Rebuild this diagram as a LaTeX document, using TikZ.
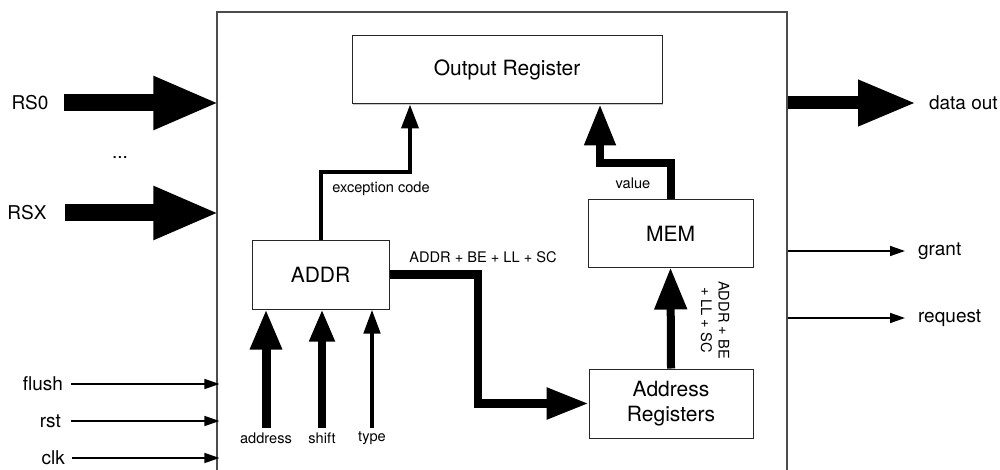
\documentclass[tikz,border=0pt]{standalone}
\usepackage{fontspec}
\setmainfont{TeX Gyre Heros}
\usetikzlibrary{arrows.meta,shadows}

\begin{document}
\begin{tikzpicture}[x=0.5pt, y=-0.5pt,
    every node/.style={font=\fontsize{9.5}{11}\selectfont},
    block/.style={rectangle, draw=black!85, line width=0.5pt, fill=white, inner sep=0pt, align=center,
        font=\fontsize{10.5}{12.5}\selectfont,
        drop shadow={shadow xshift=0.6pt, shadow yshift=-0.6pt, opacity=0.3, fill=black!70}},
    small/.style={font=\fontsize{7.3}{8.8}\selectfont},
    bus/.style n args={3}{line width=#1, -{Triangle[length=#2, width=#3]}},
    wire/.style={line width=0.75pt, -{Triangle[length=7.5pt, width=5pt]}},
    touch/.style={shorten >=-1.5pt}]
    \useasboundingbox (0,0) rectangle (1000,470);
    % frame
    \node (frame) [draw=black!70, line width=0.6pt, minimum width=285pt, minimum height=240pt, inner sep=0pt] at (502,252) {};
    % blocks
    \node (outreg) [block, minimum width=155pt, minimum height=34pt] at (507,70) {Output Register};
    \node (mem) [block, minimum width=82.5pt, minimum height=33.5pt] at (670.5,233.5) {MEM};
    \node (addr) [block, minimum width=68.5pt, minimum height=34.5pt] at (320.5,274.5) {ADDR};
    \node (areg) [block, minimum width=82pt, minimum height=34.5pt] at (671,403.5) {Address\\Registers};
    \coordinate (exc) at (410,172);
    \coordinate (val) at (600,163);
    \coordinate (turn) at (478,0);
    % internal paths
    \draw[bus={2pt}{12pt}{8.5pt}] (addr.north) |- (exc) -- (exc |- outreg.south);
    \node (exclbl) [small] at (381,189) {exception code};
    \draw[bus={4pt}{20.5pt}{15pt}] (mem.north) |- (val) -- (val |- outreg.south);
    \node (vallbl) [small] at (633,183) {value};
    \draw[bus={4.25pt}{21pt}{15pt}] (addr.east) -| (turn |- areg.west) -- (areg.west);
    \node (buslbl) [small] at (483,257) {ADDR + BE + LL + SC};
    \draw[bus={4pt}{21pt}{15.5pt}] (areg.north) -- (mem.south);
    \node (memlbl) [small, rotate=-90, align=center] at (715,320) {ADDR + BE\\+ LL + SC};
    % inputs of ADDR
    \node (ain) [small] at (266,438) {address};
    \node (sin) [small] at (322,438) {shift};
    \node (tin) [small] at (372,438) {type};
    \draw[bus={4.5pt}{20pt}{15pt}] ([yshift=5pt]ain.center) -- (ain |- addr.south);
    \draw[bus={3.75pt}{16pt}{12pt}] ([yshift=5pt]sin.center) -- (sin |- addr.south);
    \draw[bus={2.25pt}{12pt}{8pt}] ([yshift=5pt]tin.center) -- (tin |- addr.south);
    % left side
    \node (rs0) at (30,103) {RS0};
    \node (dots) at (120,158) {...};
    \node (rsx) at (27,213) {RSX};
    \draw[bus={8.5pt}{33pt}{24.5pt}, touch] ([xshift=4.3pt]rs0.east) -- (rs0 -| frame.west);
    \draw[bus={8.5pt}{33pt}{24.5pt}, touch] ([xshift=5.6pt]rsx.east) -- (rsx -| frame.west);
    \node (flush) [anchor=east] at (70,384) {flush};
    \node (rst) [anchor=east] at (68,421) {rst};
    \node (clk) [anchor=east] at (72,458) {clk};
    \draw[wire, touch] ([xshift=0.5pt]flush.east) -- (flush -| frame.west);
    \draw[wire, touch] ([xshift=1.5pt]rst.east) -- (rst -| frame.west);
    \draw[wire, touch] ([xshift=0pt]clk.east) -- (clk -| frame.west);
    % right side
    \node (dout) [anchor=west] at (922,103) {data out};
    \node (grant) [anchor=west] at (911,251) {grant};
    \node (req) [anchor=west] at (911,318) {request};
    \draw[bus={6.5pt}{29pt}{21.5pt}] (dout -| frame.east) -- ([xshift=-3pt]dout.west);
    \draw[wire] (grant -| frame.east) -- ([xshift=-3pt]grant.west);
    \draw[wire] (req -| frame.east) -- ([xshift=-3pt]req.west);
\end{tikzpicture}
\end{document}
